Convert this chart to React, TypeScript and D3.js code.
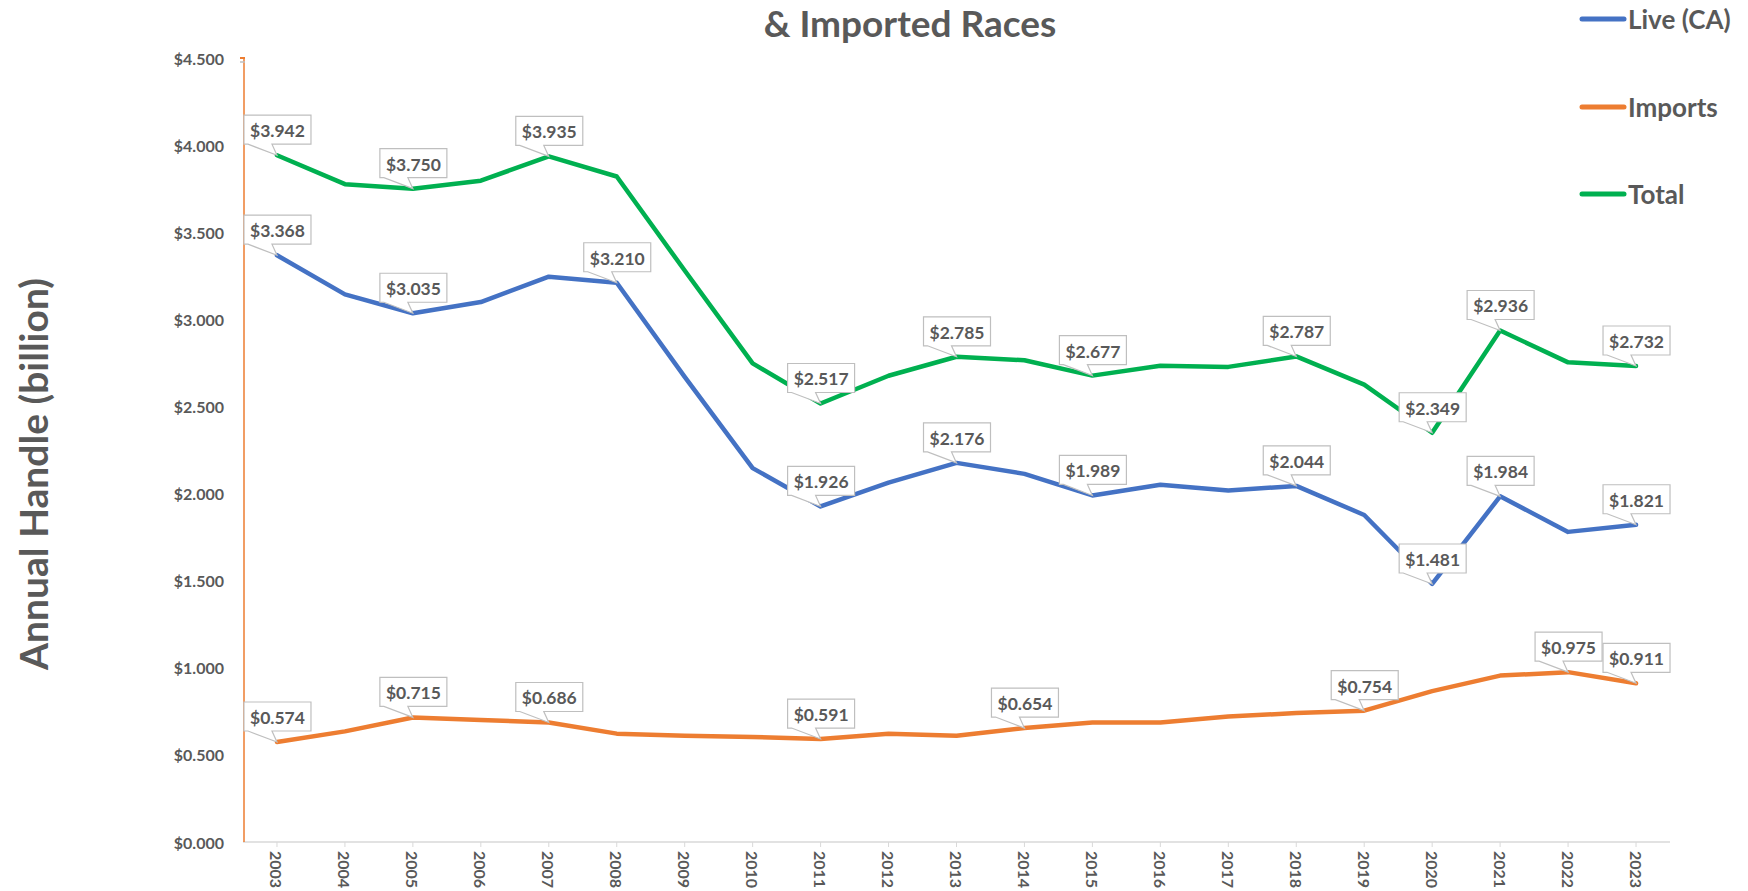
import React from 'react';
import * as d3 from 'd3';

const years = ['2003', '2004', '2005', '2006', '2007', '2008', '2009', '2010', '2011', '2012', '2013',
  '2014', '2015', '2016', '2017', '2018', '2019', '2020', '2021', '2022', '2023'];

const live = [3.368, 3.143, 3.035, 3.099, 3.245, 3.210, 2.67, 2.146, 1.926, 2.063, 2.176,
  2.113, 1.989, 2.05, 2.018, 2.044, 1.877, 1.481, 1.984, 1.78, 1.821];
const imports = [0.574, 0.635, 0.715, 0.70, 0.686, 0.622, 0.61, 0.603, 0.591, 0.622, 0.61,
  0.654, 0.686, 0.686, 0.72, 0.74, 0.754, 0.866, 0.955, 0.975, 0.911];
const total = [3.942, 3.776, 3.750, 3.796, 3.935, 3.82, 3.28, 2.747, 2.517, 2.676, 2.785,
  2.765, 2.677, 2.733, 2.727, 2.787, 2.625, 2.349, 2.936, 2.753, 2.732];

// which years get a callout label
const liveLabels = ['2003', '2005', '2008', '2011', '2013', '2015', '2018', '2020', '2021', '2023'];
const importLabels = ['2003', '2005', '2007', '2011', '2014', '2019', '2022', '2023'];
const totalLabels = ['2003', '2005', '2007', '2011', '2013', '2015', '2018', '2020', '2021', '2023'];

const yTicks = [0, 0.5, 1, 1.5, 2, 2.5, 3, 3.5, 4, 4.5];

const series = [
  { name: 'Live (CA)', values: live, labels: liveLabels, color: '#4472C4' },
  { name: 'Imports', values: imports, labels: importLabels, color: '#ED7D31' },
  { name: 'Total', values: total, labels: totalLabels, color: '#00B050' },
];

const W = 1748;
const H = 891;
const font = 'Lato, "Open Sans", sans-serif';
const grey = '#595959';

export default function App() {
  const x = d3.scalePoint<string>().domain(years).range([243, 1670]).padding(0.5);
  const y = d3.scaleLinear().domain([0, 4.5]).range([842, 58]);
  const fmt = (v: number) => '$' + d3.format('.3f')(v);

  const line = d3.line<number>()
    .x((_, i) => x(years[i]) as number)
    .y((d) => y(d));

  // callout box sizes
  const bw = 67, bh = 29;

  return (
    <svg width={W} height={H} style={{ position: 'absolute', left: 0, top: 0, background: '#fff' }}
      fontFamily={font}>
      {/* title (second line only visible) */}
      <text x={910} y={37} textAnchor="middle" fontSize={37} fontWeight={700} fill={grey}>
        &amp; Imported Races
      </text>

      {/* y axis title */}
      <text transform="translate(33,474) rotate(-90)" textAnchor="middle" dominantBaseline="central"
        fontSize={39} fontWeight={700} fill={grey}>
        Annual Handle (billion)
      </text>

      {/* y tick labels */}
      {yTicks.map((t) => (
        <text key={t} x={224} y={y(t)} textAnchor="end" dominantBaseline="central"
          fontSize={16} fontWeight={700} fill={grey}>
          {fmt(t)}
        </text>
      ))}

      {/* x axis */}
      <line x1={243} x2={1670} y1={842} y2={842} stroke="#d9d9d9" strokeWidth={1.5} />
      {years.map((yr) => (
        <g key={yr}>
          <line x1={x(yr)} x2={x(yr)} y1={842} y2={847} stroke="#d9d9d9" strokeWidth={1} />
          <text transform={`translate(${x(yr)},851) rotate(90)`} dominantBaseline="central"
            fontSize={16} fontWeight={700} fill={grey}>
            {yr}
          </text>
        </g>
      ))}

      {/* left axis (orange) */}
      <line x1={244} x2={244} y1={y(4.5)} y2={842} stroke="#ED7D31" strokeWidth={1.5} />
      <line x1={240} x2={245} y1={y(4.5)} y2={y(4.5)} stroke="#ED7D31" strokeWidth={2} />
      <line x1={240} x2={245} y1={y(4.5) + 4} y2={y(4.5) + 4} stroke="#bfbfbf" strokeWidth={1.5} />

      {/* series lines */}
      {series.map((s) => (
        <path key={s.name} d={line(s.values) || ''} fill="none" stroke={s.color} strokeWidth={4.5}
          strokeLinejoin="round" strokeLinecap="round" />
      ))}

      {/* callouts */}
      {series.map((s) =>
        s.labels.map((yr) => {
          const i = years.indexOf(yr);
          const px = x(yr) as number;
          const py = y(s.values[i]);
          const left = px - 33;
          const bottom = py - 11;
          const top = bottom - bh;
          const path = `M${left},${top} H${left + bw} V${bottom} H${left + 28} L${px},${py} L${left + 4},${bottom} H${left} Z`;
          return (
            <g key={s.name + yr}>
              <path d={path} fill="#fff" stroke="#bfbfbf" strokeWidth={1.2} />
              <text x={left + bw / 2} y={top + bh / 2 + 1} textAnchor="middle" dominantBaseline="central"
                fontSize={17.5} fontWeight={700} fill={grey}>
                {fmt(s.values[i])}
              </text>
            </g>
          );
        })
      )}

      {/* legend */}
      {series.map((s, i) => {
        const ly = [19, 107, 194][i];
        return (
          <g key={s.name}>
            <line x1={1582} x2={1624} y1={ly} y2={ly} stroke={s.color} strokeWidth={5} strokeLinecap="round" />
            <text x={1628} y={ly} dominantBaseline="central" fontSize={26} fontWeight={700} fill={grey}>
              {s.name}
            </text>
          </g>
        );
      })}
    </svg>
  );
}
